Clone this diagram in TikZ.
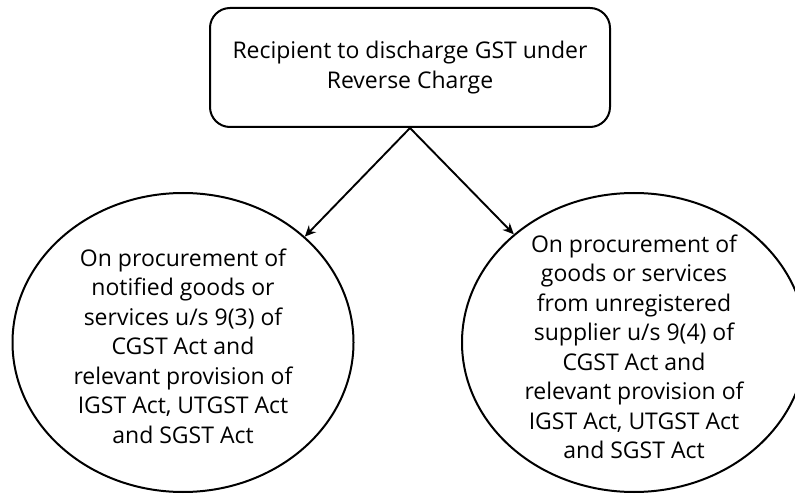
\documentclass[tikz,border=0pt]{standalone}
\usepackage{fontspec}
\setmainfont{Open Sans}
\usetikzlibrary{shapes.geometric,arrows.meta}
\begin{document}
\begin{tikzpicture}[x=1pt,y=-1pt,
  lbl/.style={font=\fontsize{23}{29.5}\selectfont, align=center, text=black},
  topbox/.style={draw, line width=2pt, rounded corners=20pt, minimum width=400pt, minimum height=119pt, inner sep=0pt},
  oval/.style={draw, ellipse, line width=2pt, inner sep=0pt},
  conn/.style={line width=1.9pt, -{Stealth[length=11pt,width=10pt]}}
]
\useasboundingbox (0,0) rectangle (795,494);
\node[topbox, lbl] (top) at (410,67.5) {Recipient to discharge GST under\\Reverse Charge};
\node[oval, minimum width=341pt, minimum height=299pt] (L) at (183,342.5) {};
\node[oval, minimum width=344pt, minimum height=299pt] (R) at (634,342.5) {};
\node[lbl] (Lt) at (183,346) {On procurement of\\notified goods or\\services u/s 9(3) of\\CGST Act and\\relevant provision of\\IGST Act, UTGST Act\\and SGST Act};
\node[lbl] (Rt) at (634,347) {On procurement of\\goods or services\\from unregistered\\supplier u/s 9(4) of\\CGST Act and\\relevant provision of\\IGST Act, UTGST Act\\and SGST Act};
\draw[conn] (top.south) -- (L.41.4);
\draw[conn] (top.south) -- (R.138.4);
\end{tikzpicture}
\end{document}
